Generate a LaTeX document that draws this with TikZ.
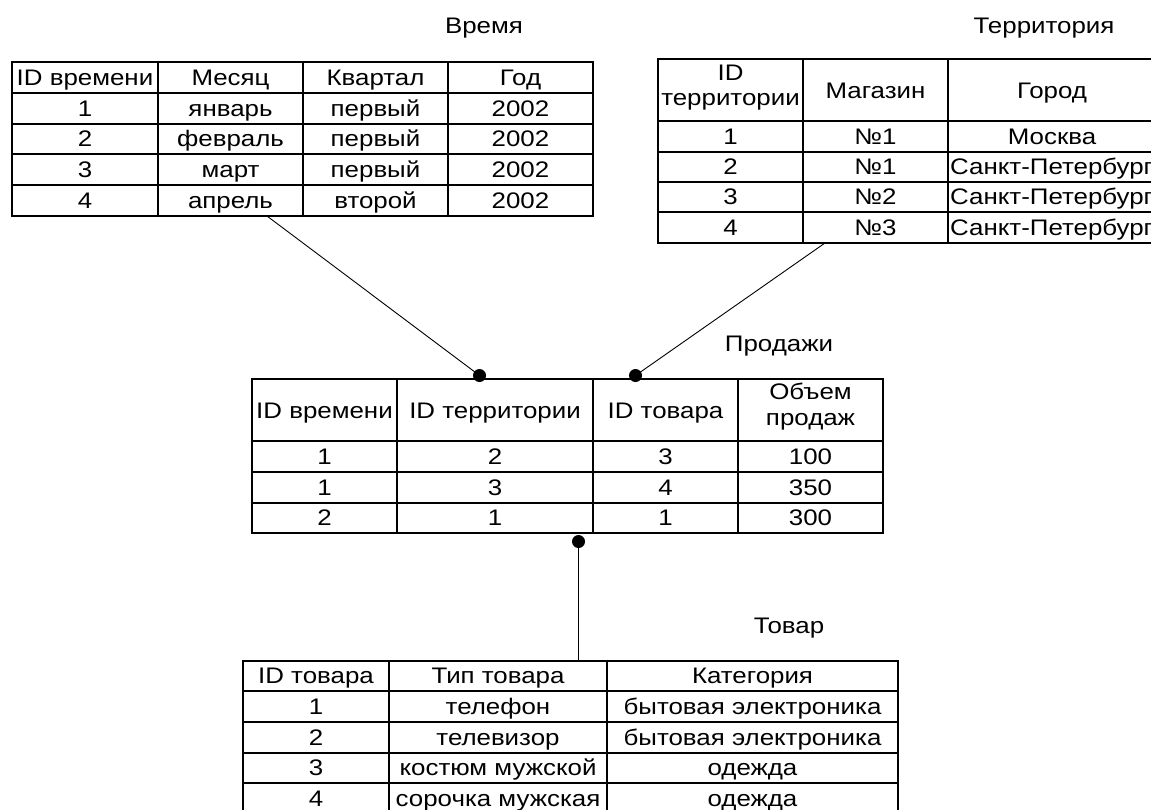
\documentclass[tikz,border=0pt]{standalone}
\usepackage{fontspec}
\setmainfont{Liberation Sans}[FakeStretch=1.15]
% one row of centred cell texts: name prefix, baseline, list of x/text
\newcommand\tabrow[3]{%
  \foreach \cx/\t [count=\c] in {#3} \node[txt] (#1-\c) at (\cx,#2) {\t};}
\begin{document}
\begin{tikzpicture}[x=1pt,y=-1pt,
  grid/.style={line width=1.3pt,draw=black},
  frame/.style={grid,rectangle,inner sep=0pt,outer sep=0pt,anchor=north west},
  link/.style={line width=0.9pt,draw=black},
  txt/.style={font=\fontsize{22.5}{26}\selectfont,inner sep=0pt,anchor=base},
  txtl/.style={txt,anchor=base west},
  joint/.style={circle,fill=black,inner sep=0pt,minimum size=13pt}]
\useasboundingbox (0,0) rectangle (1151,809);
\begin{scope}
\clip (0,0) rectangle (1151,809);

% ---------- Время ----------
\node[txt] (timeTitle) at (484,33) {Время};
\node[frame,minimum width=581pt,minimum height=154pt] (time) at (12,62) {};
\foreach \y in {93,124,154,185} \draw[grid] (12,\y) -- (593,\y);
\foreach \x in {158,303,448} \draw[grid] (\x,62) -- (\x,216);
\tabrow{timeH}{85}{85/ID времени,230.5/Месяц,375.5/Квартал,520.5/Год}
\tabrow{timeA}{116}{85/1,230.5/январь,375.5/первый,520.5/2002}
\tabrow{timeB}{146.5}{85/2,230.5/февраль,375.5/первый,520.5/2002}
\tabrow{timeC}{177}{85/3,230.5/март,375.5/первый,520.5/2002}
\tabrow{timeD}{208}{85/4,230.5/апрель,375.5/второй,520.5/2002}

% ---------- Территория ----------
\node[txt] (terrTitle) at (1044,33) {Территория};
\node[frame,minimum width=499pt,minimum height=184pt] (terr) at (658,59) {};
\foreach \y in {121,152,182,212} \draw[grid] (658,\y) -- (1157,\y);
\foreach \x in {803,948} \draw[grid] (\x,59) -- (\x,243);
\node[txt] (terrH1a) at (730.5,80) {ID};
\node[txt] (terrH1b) at (730.5,105) {территории};
\tabrow{terrH}{98.5}{875.5/Магазин,1052/Город}
\tabrow{terrA}{144}{730.5/1,875.5/№1,1052/Москва}
\tabrow{terrB}{174.5}{730.5/2,875.5/№1}
\tabrow{terrC}{204.5}{730.5/3,875.5/№2}
\tabrow{terrD}{235}{730.5/4,875.5/№3}
\node[txtl] (terrB-3) at (950,174.5) {Санкт-Петербург};
\node[txtl] (terrC-3) at (950,204.5) {Санкт-Петербург};
\node[txtl] (terrD-3) at (950,235) {Санкт-Петербург};

% ---------- Продажи ----------
\node[txt] (salesTitle) at (779,351) {Продажи};
\node[frame,minimum width=631pt,minimum height=154pt] (sales) at (252,379) {};
\foreach \y in {441,472,503} \draw[grid] (252,\y) -- (883,\y);
\foreach \x in {397,593,738} \draw[grid] (\x,379) -- (\x,533);
\tabrow{salesH}{418.5}{324.5/ID времени,495/ID территории,665.5/ID товара}
\node[txt] (salesH4a) at (810.5,399) {Объем};
\node[txt] (salesH4b) at (810.5,425) {продаж};
\tabrow{salesA}{464}{324.5/1,495/2,665.5/3,810.5/100}
\tabrow{salesB}{495}{324.5/1,495/3,665.5/4,810.5/350}
\tabrow{salesC}{525}{324.5/2,495/1,665.5/1,810.5/300}

% ---------- Товар ----------
\node[txt] (goodsTitle) at (789,633) {Товар};
\node[frame,minimum width=655pt,minimum height=153pt] (goods) at (243,661) {};
\foreach \y in {691,722,753,783} \draw[grid] (243,\y) -- (898,\y);
\foreach \x in {389,607} \draw[grid] (\x,661) -- (\x,814);
\tabrow{goodsH}{683}{316/ID товара,498/Тип товара,752.5/Категория}
\tabrow{goodsA}{714}{316/1,498/телефон,752.5/бытовая электроника}
\tabrow{goodsB}{745}{316/2,498/телевизор,752.5/бытовая электроника}
\tabrow{goodsC}{775}{316/3,498/костюм мужской,752.5/одежда}
\tabrow{goodsD}{806}{316/4,498/сорочка мужская,752.5/одежда}

% ---------- links between the tables ----------
\coordinate (timeEnd) at (267,216);
\coordinate (terrEnd) at (825,243);
\coordinate (goodsEnd) at (578.5,661);
\node[joint] (jTime) at (479.5,375.5) {};
\node[joint] (jTerr) at (635.5,375.5) {};
\node[joint] (jGoods) at (578.5,541.5) {};
\draw[link] (timeEnd) -- (jTime.center);
\draw[link] (terrEnd) -- (jTerr.center);
\draw[link] (jGoods.center) -- (goodsEnd);
\end{scope}
\end{tikzpicture}
\end{document}
